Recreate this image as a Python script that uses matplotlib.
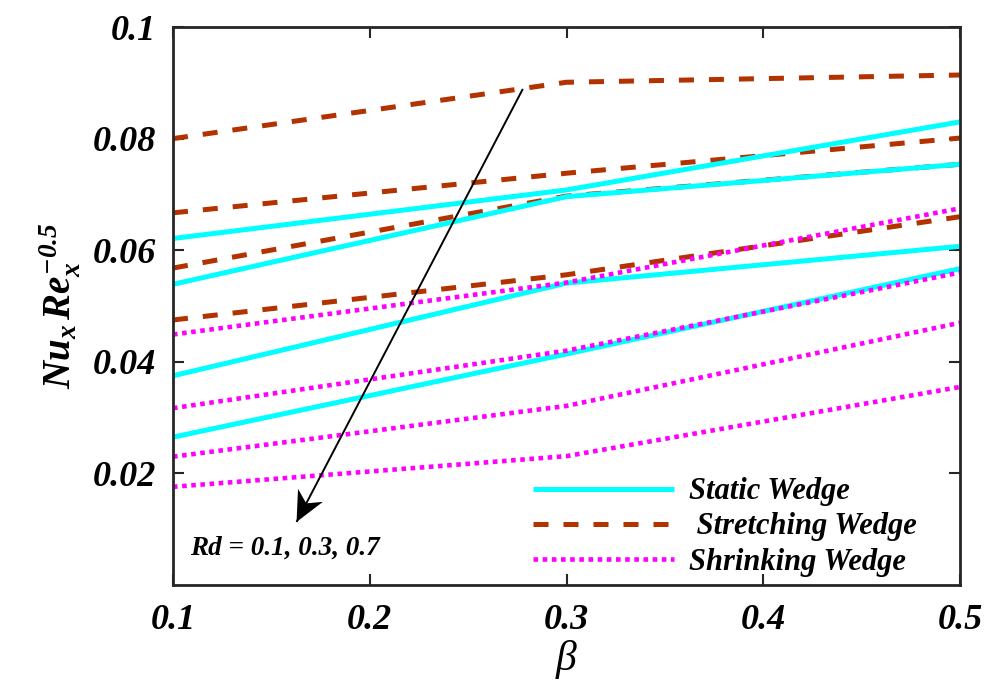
import numpy as np
import matplotlib
matplotlib.use("Agg")
import matplotlib.pyplot as plt
from matplotlib.patches import Polygon
from matplotlib.transforms import IdentityTransform
from matplotlib.font_manager import FontProperties

# Wedge angle parameter
beta = [0.1, 0.3, 0.5]

# Local Nusselt number Nu_x Re_x^-0.5 for Rd = 0.1, 0.3, 0.7 (and baseline)
static_wedge = [
    [0.0621, 0.0708, 0.0830],
    [0.0539, 0.0696, 0.0754],
    [0.0375, 0.0541, 0.0607],
    [0.0265, 0.0414, 0.0567],
]
stretching_wedge = [
    [0.0800, 0.0901, 0.0914],
    [0.0667, 0.0738, 0.0801],
    [0.0568, 0.0697, 0.0754],
    [0.0475, 0.0556, 0.0660],
]
shrinking_wedge = [
    [0.0449, 0.0542, 0.0675],
    [0.0317, 0.0420, 0.0560],
    [0.0230, 0.0321, 0.0470],
    [0.0176, 0.0231, 0.0355],
]

series_labels = ["Static Wedge", " Stretching Wedge", "Shrinking Wedge"]
x_ticks = [0.1, 0.2, 0.3, 0.4, 0.5]
y_ticks = [0.02, 0.04, 0.06, 0.08, 0.1]
y_tick_labels = ["0.02", "0.04", "0.06", "0.08", "0.1"]
annotation_text = "Rd = 0.1, 0.3, 0.7"

SERIF = "Liberation Serif"
plt.rcParams["font.family"] = [SERIF, "DejaVu Serif"]
plt.rcParams["mathtext.fontset"] = "custom"
plt.rcParams["mathtext.it"] = f"{SERIF}:italic:bold"
plt.rcParams["mathtext.rm"] = f"{SERIF}:italic:bold"
plt.rcParams["mathtext.bf"] = f"{SERIF}:italic:bold"

CYAN = "#00FFFF"
BROWN = "#B23200"
MAGENTA = "#FF00FF"

fig = plt.figure(figsize=(9.93, 6.89), dpi=100)
ax = fig.add_axes([0.1742, 0.1509, 0.7926, 0.8099])

h_stretch = h_static = h_shrink = None
for ys in stretching_wedge:
    h_stretch, = ax.plot(beta, ys, color=BROWN, lw=3.6, dashes=(3, 3),
                         dash_capstyle="butt")
for ys in static_wedge:
    h_static, = ax.plot(beta, ys, color=CYAN, lw=3.6, solid_capstyle="butt")
for ys in shrinking_wedge:
    h_shrink, = ax.plot(beta, ys, color=MAGENTA, lw=3.3, dashes=(1, 1),
                        dash_capstyle="butt")

ax.set_xlim(0.1, 0.5)
ax.set_ylim(0.0, 0.1)
ax.set_xticks(x_ticks)
ax.set_xticklabels([f"{v:g}" for v in x_ticks])
ax.set_yticks(y_ticks)
ax.set_yticklabels(y_tick_labels)

tick_font = FontProperties(family=SERIF, weight="bold", style="italic", size=26)
for lbl in ax.get_xticklabels() + ax.get_yticklabels():
    lbl.set_fontproperties(tick_font)

ax.tick_params(direction="in", length=8, width=1.5, color="#262626",
               top=True, right=True, pad=12)
ax.tick_params(axis="x", pad=14)
for sp in ax.spines.values():
    sp.set_linewidth(2.0)
    sp.set_color("#262626")

ax.set_xlabel("\u03b2", family=SERIF, style="italic", size=30, labelpad=2)
ax.set_ylabel(r"$Nu_x\,Re_x^{-0.5}$", size=28, labelpad=8)

# Arrow showing increasing radiation parameter: shaft plus notched head
arrow_start = (0.2778, 0.0889)
arrow_tip = (0.1628, 0.0113)
ax.plot([arrow_start[0], arrow_tip[0]], [arrow_start[1], arrow_tip[1]],
        color="black", lw=1.4, solid_capstyle="butt")
p0 = ax.transData.transform(arrow_start)
p1 = ax.transData.transform(arrow_tip)
ang = np.arctan2(p1[1] - p0[1], p1[0] - p0[0])
head = np.array([[0, 0], [-30, 14], [-21, 0], [-30, -14]], float)
rot = np.array([[np.cos(ang), -np.sin(ang)], [np.sin(ang), np.cos(ang)]])
head = head @ rot.T + p1
ax.add_patch(Polygon(head, closed=True, facecolor="black", edgecolor="none",
                     transform=IdentityTransform(), clip_on=False))

ax.text(0.1086, 0.0066, annotation_text, family=SERIF, weight="bold",
        style="italic", size=19.5, va="center", ha="left")

leg = ax.legend([h_static, h_stretch, h_shrink], series_labels,
                loc="upper left", bbox_to_anchor=(0.4574, 0.193),
                frameon=False, borderpad=0, borderaxespad=0,
                handlelength=4.6, handletextpad=0.5, labelspacing=0.2,
                prop=dict(family=SERIF, weight="bold", style="italic", size=22))

fig.savefig("out.png", dpi=100)
